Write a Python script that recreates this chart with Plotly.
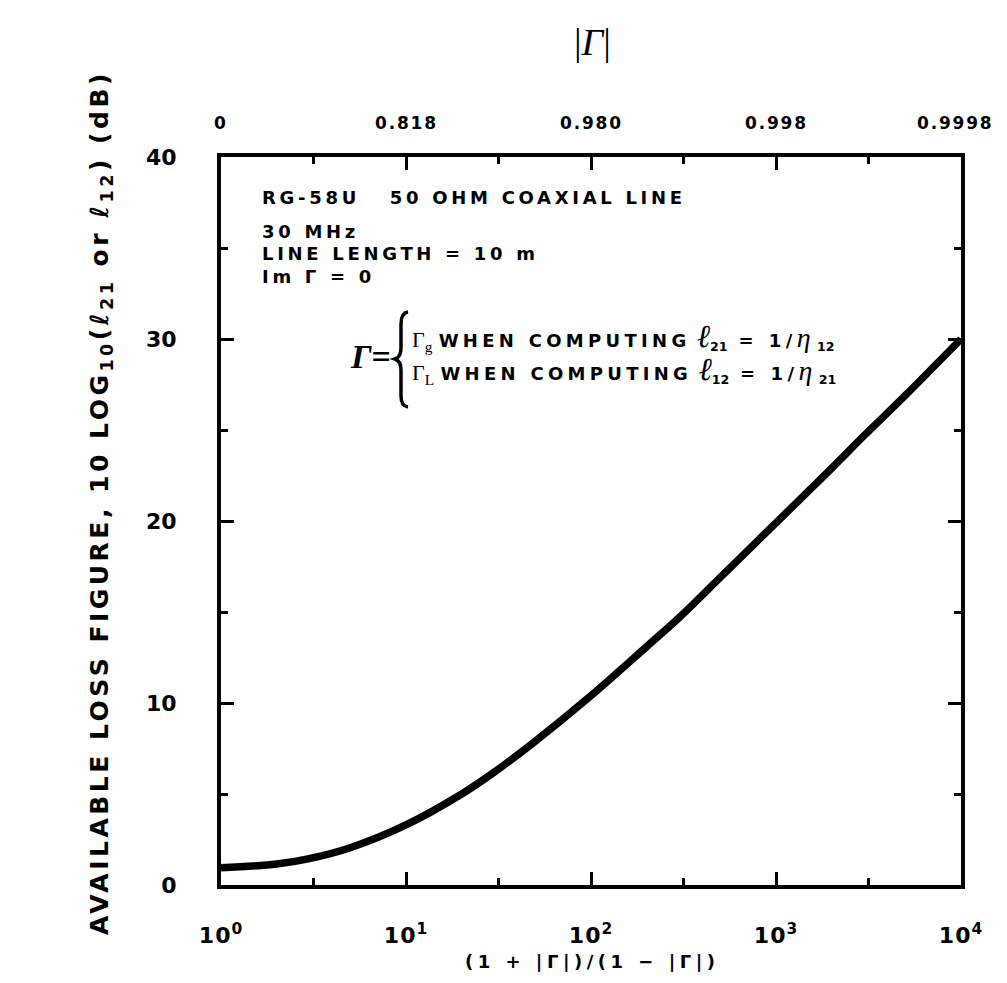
import math
import plotly.graph_objects as go

# Data
vswr = [1, 2, 3, 5, 10, 20, 30, 50, 100, 200, 300, 500, 1000, 2000, 3000, 5000, 10000]
loss_db = [0.95, 1.15, 1.45, 2.05, 3.3, 5.0, 6.2, 7.9, 10.4, 13.1, 14.7, 16.9, 19.9, 22.9, 24.7, 26.9, 30.0]

bottom_tickvals = [1, 10, 100, 1000, 10000]
bottom_ticktext = ["10<sup>0</sup>", "10<sup>1</sup>", "10<sup>2</sup>", "10<sup>3</sup>", "10<sup>4</sup>"]
minor_tickvals = [3.162, 31.62, 316.2, 3162]
top_ticktext = ["0", "0.818", "0.980", "0.998", "0.9998"]
y_tickvals = [0, 10, 20, 30, 40]

FONT = "DejaVu Sans"
OFF = 8                      # page body margin
W, H = 1007 - 2 * OFF, 983 - 2 * OFF
L, R, T, B = 221, 961, 157, 885   # plot frame in page pixels


def px(x, y):
    return (x - L) / (R - L), (B - y) / (B - T)


def sp(txt, ls):
    return f"<span style='letter-spacing:{ls}px'>{txt}</span>"


fig = go.Figure()
fig.add_trace(go.Scatter(x=vswr, y=loss_db, mode="lines",
                         line=dict(color="black", width=7.5, shape="spline", smoothing=1.0),
                         showlegend=False, hoverinfo="skip"))

fig.update_layout(
    width=W, height=H,
    margin=dict(l=L - OFF, r=W + OFF - R, t=T - OFF, b=H + OFF - B),
    paper_bgcolor="white", plot_bgcolor="white",
    font=dict(family=FONT, color="black", size=18, weight="bold"),
    xaxis=dict(type="log", range=[0, 4], tickvals=bottom_tickvals,
               ticktext=[sp(t, 1) for t in bottom_ticktext],
               ticks="inside", ticklen=13, tickwidth=3, tickcolor="black",
               showline=True, linewidth=4, linecolor="black", mirror="allticks",
               showgrid=False, zeroline=False, ticklabelstandoff=28,
               tickfont=dict(size=22, family=FONT, weight="bold"),
               minor=dict(tickvals=minor_tickvals, ticks="inside", ticklen=7, tickwidth=3,
                          tickcolor="black", showgrid=False)),
    yaxis=dict(range=[0, 40], tickvals=y_tickvals, ticks="inside", ticklen=13, tickwidth=3,
               tickcolor="black", showline=True, linewidth=4, linecolor="black",
               mirror="allticks", showgrid=False, zeroline=False, ticklabelstandoff=36,
               tickfont=dict(size=22, family=FONT, weight="bold"),
               minor=dict(dtick=5, ticks="inside", ticklen=7, tickwidth=3,
                          tickcolor="black", showgrid=False)),
)

SERIF = "font-family:Liberation Serif;font-weight:normal"
ann = []
# top |Γ| scale labels, placed at the bottom-axis decade positions
_, ytop = px(0, 123)
for i, (v, t) in enumerate(zip(bottom_tickvals, top_ticktext)):
    ann.append(dict(text=sp(t, 1.8), x=math.log10(v), xref="x", y=ytop,
                    xshift=-6 if i == len(top_ticktext) - 1 else 0,
                    font=dict(size=17)))
x0, y0 = px(592, 42)
ann.append(dict(text="|<i>Γ</i>|", x=x0, y=y0, font=dict(family="Liberation Serif", size=38, weight="normal")))
x0, y0 = px(592, 961)
ann.append(dict(text=sp("(1 + |Γ|)/(1 − |Γ|)", 4.5), x=x0, y=y0, font=dict(size=18)))
x0, y0 = px(101, 503)
ann.append(dict(text=sp("AVAILABLE LOSS FIGURE, 10 LOG<sub>10</sub>(<i>ℓ</i><sub>21</sub> or <i>ℓ</i><sub>12</sub>) (dB)", 3.5),
                x=x0, y=y0, textangle=-90, font=dict(size=25)))
for txt, yy in [("RG-58U   50 OHM COAXIAL LINE", 197), ("30 MHz", 231),
                ("LINE LENGTH = 10 m", 254), ("Im Γ = 0", 276)]:
    x0, y0 = px(260, yy)
    ann.append(dict(text=sp(txt, 3.7), x=x0, y=y0, xanchor="left", font=dict(size=18)))
x0, y0 = px(370, 356)
ann.append(dict(text="<i>Γ</i>=", x=x0, y=y0, font=dict(family="Liberation Serif", size=34)))
for g, a, b, yy in [("g", "21", "12", 336), ("L", "12", "21", 369)]:
    txt = (f"<span style='{SERIF};font-size:22px'>Γ<sub>{g}</sub></span> "
           + sp("WHEN COMPUTING", 4.3)
           + f" <span style='{SERIF};font-size:32px'><i>ℓ</i></span><sub>{a}</sub>"
           + sp(" = 1/", 4.5)
           + f"<span style='{SERIF};font-size:28px'><i>η</i></span> <sub>{b}</sub>")
    x0, y0 = px(410, yy)
    ann.append(dict(text=txt, x=x0, y=y0, xanchor="left", font=dict(size=18)))

for a in ann:
    a.setdefault("xref", "paper")
    a.update(yref="paper", showarrow=False)
    a.setdefault("xanchor", "center")
    a.setdefault("yanchor", "middle")
fig.update_layout(annotations=ann)

# brace
pts = [(408, 312), (401, 313), (401, 324), (401, 348), (401, 357), (395, 359),
       (401, 361), (401, 370), (401, 396), (401, 406), (408, 407)]
p = [px(*q) for q in pts]
path = (f"M {p[0][0]},{p[0][1]} Q {p[1][0]},{p[1][1]} {p[2][0]},{p[2][1]} "
        f"L {p[3][0]},{p[3][1]} Q {p[4][0]},{p[4][1]} {p[5][0]},{p[5][1]} "
        f"Q {p[6][0]},{p[6][1]} {p[7][0]},{p[7][1]} L {p[8][0]},{p[8][1]} "
        f"Q {p[9][0]},{p[9][1]} {p[10][0]},{p[10][1]}")
fig.add_shape(type="path", path=path, xref="paper", yref="paper",
              line=dict(color="black", width=3.5))

fig.write_html("out.html")
